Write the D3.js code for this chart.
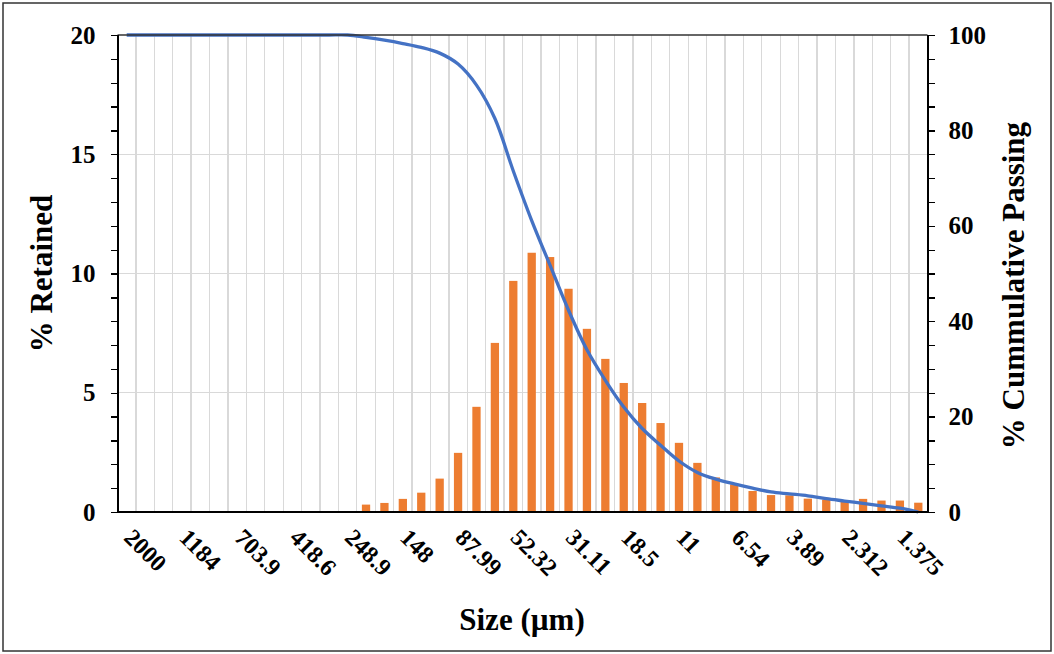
<!DOCTYPE html>
<html lang="en">
<head>
<meta charset="UTF-8">
<title>Particle size distribution</title>
<script src="https://d3js.org/d3.v7.min.js"></script>
<style>
body { margin: 0; background: #fff; }
svg text { font-family: "Liberation Serif", "Times New Roman", serif; font-weight: bold; fill: #000; }
.axis path, .axis line { stroke: #000; stroke-width: 1.3; shape-rendering: crispEdges; }
.grid line { stroke: #d9d9d9; stroke-width: 1.3; shape-rendering: crispEdges; }
</style>
</head>
<body>
<script>
// size classes (um), 44 channels, every 3rd is labelled
var sizes = ["2000","1674","1408","1184","995.6","837.1","703.9","591.9","497.8","418.6",
             "352","296","248.9","209.3","176","148","124.5","104.7","87.99","74",
             "62.23","52.32","44","37","31.11","26.16","22","18.5","15.56","13.08",
             "11","9.25","7.778","6.54","5.5","4.625","3.89","3.27","2.75","2.312",
             "1.945","1.635","1.375","1.156"];

// % retained per channel
var retained = [0,0,0,0,0,0,0,0,0,0,
                0,0,0,0.31,0.38,0.55,0.81,1.40,2.48,4.41,
                7.09,9.69,10.87,10.69,9.36,7.68,6.42,5.41,4.57,3.73,
                2.90,2.06,1.45,1.16,0.88,0.71,0.70,0.56,0.52,0.44,
                0.55,0.48,0.48,0.39];

// % cumulative passing per channel
var passing = [100,100,100,100,100,100,100,100,100,100,
               100,100,100,99.5,98.9,98.2,97.4,96.2,93.9,89.5,
               82.5,71.5,61.1,51.7,42.3,34.0,27.6,22.0,17.5,14.0,
               10.7,8.3,6.9,5.9,5.0,4.2,3.8,3.4,2.8,2.3,
               1.8,1.3,0.8,0.0];

var leftTicks = [0,5,10,15,20];
var rightTicks = [0,20,40,60,80,100];

var W = 1054, H = 654;
var plot = {left:117.5, right:927.5, top:35, bottom:512};

var svg = d3.select('body').append('svg')
    .attr('width', W).attr('height', H);

// outer frame
svg.append('rect')
   .attr('x', 3).attr('y', 3).attr('width', W-6).attr('height', H-6)
   .attr('fill', '#fff').attr('stroke', '#333').attr('stroke-width', 1.5);

var x = d3.scaleBand()
    .domain(sizes)
    .range([plot.left, plot.right])
    .paddingInner(0.55)
    .paddingOuter(0.275);

var yL = d3.scaleLinear().domain([0,20]).range([plot.bottom, plot.top]);
var yR = d3.scaleLinear().domain([0,100]).range([plot.bottom, plot.top]);

var step = x.step();

// vertical gridlines at category boundaries
svg.append('g').attr('class','grid')
   .selectAll('line')
   .data(sizes.slice(1))
   .enter().append('line')
   .attr('x1', function(d){ return x(d) - (step - x.bandwidth())/2; })
   .attr('x2', function(d){ return x(d) - (step - x.bandwidth())/2; })
   .attr('y1', plot.top).attr('y2', plot.bottom);

// horizontal gridlines
svg.append('g').attr('class','grid')
   .selectAll('line')
   .data(leftTicks.slice(1, -1))
   .enter().append('line')
   .attr('x1', plot.left).attr('x2', plot.right)
   .attr('y1', function(d){ return yL(d); })
   .attr('y2', function(d){ return yL(d); });

// bars
svg.append('g')
   .selectAll('rect')
   .data(retained)
   .enter().append('rect')
   .attr('x', function(d,i){ return x(sizes[i]); })
   .attr('y', function(d){ return yL(d); })
   .attr('width', x.bandwidth())
   .attr('height', function(d){ return yL(0) - yL(d); })
   .attr('fill', '#ED7D31');

// cumulative line
var line = d3.line()
    .x(function(d,i){ return x(sizes[i]) + x.bandwidth()/2; })
    .y(function(d){ return yR(d); })
    .curve(d3.curveCatmullRom.alpha(0.5));

svg.append('path')
   .datum(passing)
   .attr('d', line)
   .attr('fill', 'none')
   .attr('stroke', '#4472C4')
   .attr('stroke-width', 3.3)
   .attr('stroke-linejoin', 'round');

// plot frame (top)
svg.append('line')
   .attr('x1', plot.left).attr('x2', plot.right)
   .attr('y1', plot.top).attr('y2', plot.top)
   .attr('stroke', '#333').attr('stroke-width', 1.5);

// left axis: minor + major
svg.append('g').attr('class','axis')
   .attr('transform','translate('+plot.left+',0)')
   .call(d3.axisLeft(yL).tickValues(d3.range(0,21,1)).tickSize(7).tickFormat(''));
svg.append('g').attr('class','axis')
   .attr('transform','translate('+plot.left+',0)')
   .call(d3.axisLeft(yL).tickValues(leftTicks).tickSize(7).tickPadding(15))
   .call(function(g){ g.selectAll('text').style('font-size','25px'); });

// right axis
svg.append('g').attr('class','axis')
   .attr('transform','translate('+plot.right+',0)')
   .call(d3.axisRight(yR).tickValues(d3.range(0,101,5)).tickSize(7).tickFormat(''));
svg.append('g').attr('class','axis')
   .attr('transform','translate('+plot.right+',0)')
   .call(d3.axisRight(yR).tickValues(rightTicks).tickSize(7).tickPadding(14))
   .call(function(g){ g.selectAll('text').style('font-size','25px'); });

// bottom axis, rotated labels
var xAxis = svg.append('g').attr('class','axis')
   .attr('transform','translate(0,'+plot.bottom+')')
   .call(d3.axisBottom(x)
        .tickValues(sizes.filter(function(d,i){ return i % 3 === 0; }))
        .tickSize(0).tickPadding(0));
xAxis.select('.domain').attr('d', 'M'+plot.left+',0H'+plot.right);
xAxis.selectAll('text')
   .style('font-size','24px')
   .attr('text-anchor','start')
   .attr('dy', null)
   .attr('transform','translate(-4,27) rotate(45)');

// axis titles
svg.append('text')
   .attr('transform','translate(52,'+((plot.top+plot.bottom)/2)+') rotate(-90)')
   .attr('text-anchor','middle')
   .style('font-size','31px')
   .text('% Retained');

svg.append('text')
   .attr('transform','translate(1024,'+((plot.top+plot.bottom)/2 + 12)+') rotate(-90)')
   .attr('text-anchor','middle')
   .style('font-size','31px')
   .text('% Cummulative Passing');

svg.append('text')
   .attr('x', 522).attr('y', 630)
   .attr('text-anchor','middle')
   .style('font-size','31px')
   .text('Size (µm)');
</script>
</body>
</html>
